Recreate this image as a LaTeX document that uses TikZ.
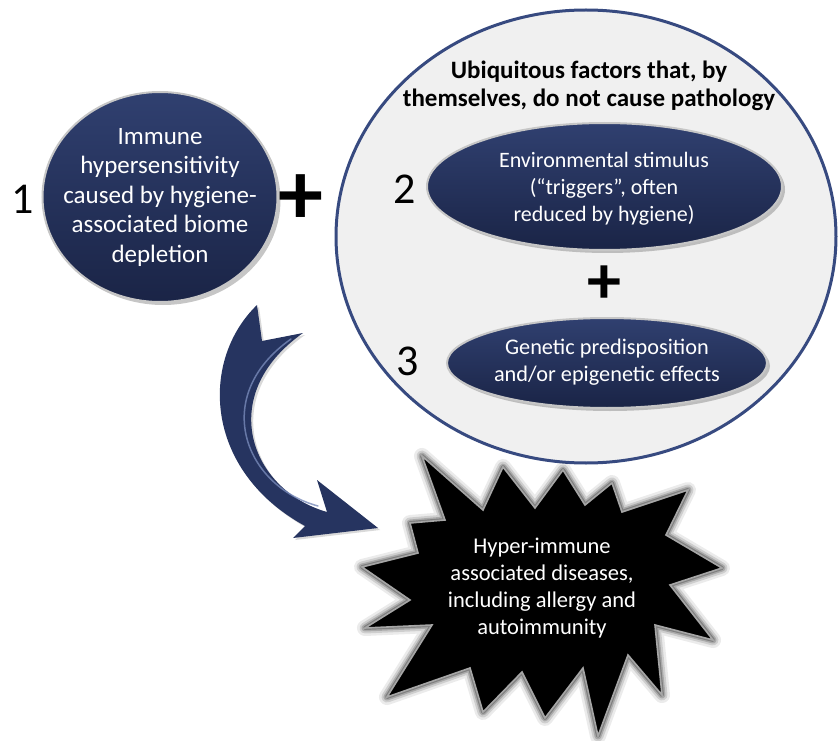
\documentclass[tikz,border=0pt]{standalone}
\usepackage{fontspec}
\setmainfont{Carlito}
\usetikzlibrary{shapes.geometric,shadows}
\definecolor{navy}{RGB}{38,52,96}
\definecolor{navytop}{RGB}{48,64,112}
\definecolor{navydark}{RGB}{26,36,70}
\definecolor{rimblue}{RGB}{55,74,128}
\definecolor{bgray}{RGB}{240,240,240}
\definecolor{hilite}{RGB}{120,138,185}
\def\spikepath{(422,456) -- (483,510) -- (503,467) -- (535,508) -- (563,470) -- (585,505) -- (612,483) -- (622,512) -- (688,490) -- (666,535) -- (722,568) -- (670,585) -- (713,640) -- (655,625) -- (662,695) -- (628,655) -- (598,736) -- (583,668) -- (545,718) -- (522,672) -- (483,712) -- (470,668) -- (387,697) -- (432,625) -- (365,628) -- (410,600) -- (362,567) -- (418,553) -- (410,523) -- (445,520) -- cycle}
\begin{document}
\begin{tikzpicture}[x=1pt,y=-1pt,
  bubble/.style={ellipse, inner sep=0pt, draw=gray!45, line width=2pt,
    top color=navytop, bottom color=navydark,
    drop shadow={shadow xshift=3pt, shadow yshift=-3pt, opacity=0.45}},
  whitetxt/.style={text=white, align=center, inner sep=0pt},
  numtxt/.style={font=\fontsize{44}{44}\selectfont, inner sep=0pt},
  plustxt/.style={font=\bfseries\fontsize{#1}{#1}\selectfont, inner sep=0pt}
]
\useasboundingbox (0,0) rectangle (839,741);

% big enclosing ellipse
\node[ellipse, minimum width=500pt, minimum height=453pt, fill=bgray,
  draw=rimblue, line width=3pt, inner sep=0pt] (ub) at (586,236.5) {};
\node[align=center, inner sep=0pt, font=\bfseries\fontsize{25}{28.5}\selectfont] (title) at (589,86)
  {Ubiquitous factors that, by\\themselves, do not cause pathology};

% circle 1
\node[bubble, minimum width=235pt, minimum height=210pt] (c1) at (160,197) {};
\node[whitetxt, font=\fontsize{25}{29.5}\selectfont] (c1t) at (c1.center)
  {Immune\\hypersensitivity\\caused by hygiene-\\associated biome\\depletion};
\node[numtxt] (n1) at (23,199) {1};
\node[plustxt=90] (p1) at (301,200) {+};

% ellipse 2
\node[bubble, minimum width=355pt, minimum height=127pt] (e2) at (604.5,186.5) {};
\node[whitetxt, font=\fontsize{22}{27}\selectfont] (e2t) at (604,189)
  {Environmental stimulus\\(“triggers”, often\\reduced by hygiene)};
\node[numtxt] (n2) at (405,189) {2};
\node[plustxt=68] (p2) at (604,285) {+};

% ellipse 3
\node[bubble, minimum width=320pt, minimum height=90pt] (e3) at (607,363) {};
\node[whitetxt, font=\fontsize{22.3}{27}\selectfont] (e3t) at (607,362)
  {Genetic predisposition\\and/or epigenetic effects};
\node[numtxt] (n3) at (408,361) {3};

% star burst
\foreach \w/\o in {16/0.08, 11/0.12, 7/0.18, 4/0.25}
  \draw[black, opacity=\o, line width=\w pt, line join=round] \spikepath;
\fill[black] \spikepath;
\draw[gray!70, line width=1.6pt, line join=miter] \spikepath;
\node[whitetxt, font=\fontsize{22.5}{27}\selectfont] (st) at (542,588)
  {Hyper-immune\\associated diseases,\\including allergy and\\autoimmunity};

% curved block arrow from circle 1 to the star
\coordinate (atl) at (257,305);
\coordinate (atr) at (303,333);
\coordinate (anotch) at (262,341);
\coordinate (aout) at (305,526);
\coordinate (abl) at (293,538);
\coordinate (atip) at (378,528);
\coordinate (abu) at (317,480);
\coordinate (ain) at (327,512);
\fill[navy, drop shadow={shadow xshift=2pt, shadow yshift=-2pt, opacity=0.3}]
  (atl) .. controls (200,360) and (203,470) .. (aout) -- (abl) -- (atip) -- (abu) -- (ain)
  .. controls (250,490) and (215,395) .. (atr) -- (anotch) -- cycle;
\draw[hilite, line width=1.5pt, opacity=0.8, line cap=round]
  (318,506) .. controls (244,486) and (210,396) .. (291,339);
\end{tikzpicture}
\end{document}
